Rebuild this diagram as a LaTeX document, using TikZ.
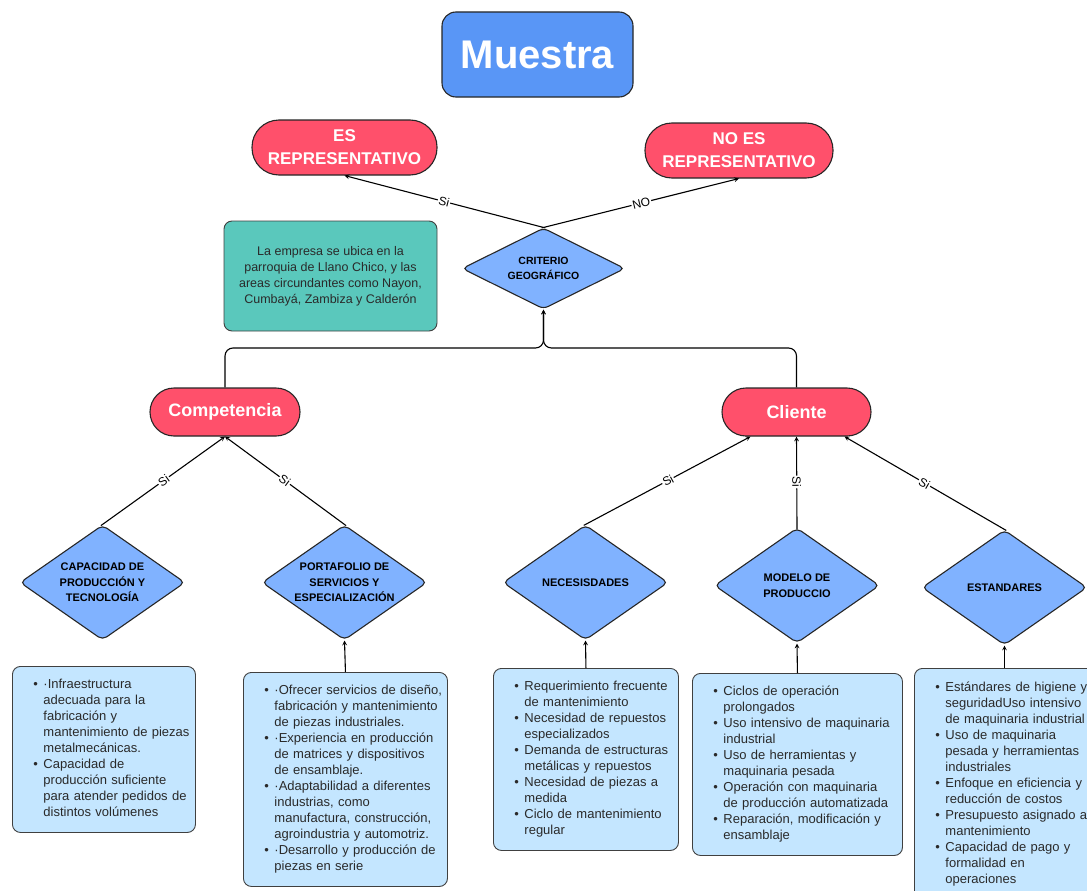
\documentclass[tikz,border=0pt]{standalone}
\usepackage{fontspec}
\setmainfont{Liberation Sans}
\usetikzlibrary{positioning,calc,arrows,shapes.geometric}

\definecolor{azultit}{HTML}{5996F6}
\definecolor{rojo}{HTML}{FF506B}
\definecolor{rombo}{HTML}{80B2FF}
\definecolor{verde}{HTML}{5AC8BC}
\definecolor{caja}{HTML}{C4E6FF}
\definecolor{tinta}{HTML}{2A2A2A}

\begin{document}
\begin{tikzpicture}[x=1pt,y=-1pt]
	\useasboundingbox (0,0) rectangle (1087,891);
	\begin{scope}
		\tikzstyle{every node}=[align=center, inner sep=0.2em]
		\tikzstyle{pill}=[draw=black!85, line width=1.1pt, fill=rojo, text=white, font=\bfseries\fontsize{17}{23}\selectfont]
		\tikzstyle{rmb}=[diamond, aspect=1.43, draw=black!85, line width=1.1pt, fill=rombo, rounded corners=5pt, inner sep=0pt, minimum width=165pt, minimum height=115pt, font=\bfseries\fontsize{11}{15.5}\selectfont]
		\tikzstyle{lista}=[draw=black!75, line width=0.9pt, fill=caja, rounded corners=8pt, anchor=north west, align=left, inner xsep=0pt, font=\fontsize{13}{16}\selectfont, text=tinta]
		\tikzstyle{etq}=[sloped, fill=white, inner sep=1pt, font=\fontsize{12}{12}\selectfont]
		\tikzstyle{flecha}=[->, >=stealth, line width=1.1pt]

		\node (mue) [draw=black!85, line width=1.1pt, fill=azultit, text=white, rounded corners=14pt, minimum width=191pt, minimum height=85pt, font=\bfseries\fontsize{40}{44}\selectfont] at (537.5, 54.5) {Muestra};

		\node (esr)  [pill, rounded corners=27pt, minimum width=185pt, minimum height=55pt] at (344.5, 147.5) {ES\\REPRESENTATIVO};
		\node (noes) [pill, rounded corners=27pt, minimum width=188pt, minimum height=55pt] at (739, 150.5) {NO ES\\REPRESENTATIVO};

		\node (crit) [rmb, aspect=2, minimum width=163pt, minimum height=81pt, font=\bfseries\fontsize{10.5}{15}\selectfont] at (543.5, 268.5) {CRITERIO\\GEOGRÁFICO};

		\node (geo) [draw=black!75, line width=0.9pt, fill=verde, rounded corners=8pt, minimum width=213pt, minimum height=110pt, text=tinta, font=\fontsize{12.5}{16}\selectfont] at (330.5, 276) {La empresa se ubica en la\\parroquia de Llano Chico, y las\\areas circundantes como Nayon,\\Cumbayá, Zambiza y Calderón};

		\node (comp) [pill, rounded corners=24pt, minimum width=150pt, minimum height=48pt, font=\bfseries\fontsize{18}{20}\selectfont] at (225, 412) {Competencia};
		\node (cli)  [pill, rounded corners=24pt, minimum width=149pt, minimum height=48pt, font=\bfseries\fontsize{18}{20}\selectfont] at (796.5, 412) {Cliente};

		\node (cap)  [rmb] at (102.5, 582.5) {CAPACIDAD DE\\PRODUCCIÓN Y\\TECNOLOGÍA};
		\node (port) [rmb] at (344.5, 582.5) {PORTAFOLIO DE\\SERVICIOS Y\\ESPECIALIZACIÓN};
		\node (nec)  [rmb] at (585.5, 582.5) {NECESISDADES};
		\node (mod)  [rmb] at (797, 585.5) {MODELO DE\\PRODUCCIO};
		\node (est)  [rmb] at (1004.5, 587.5) {ESTANDARES};

		\node (bcap) [lista, text width=183pt, minimum height=166pt] at (12, 666) {\noindent\begin{tabular}{@{\hspace{21pt}}p{10pt}@{}l@{}}
			\textbullet & ·Infraestructura\\
			& adecuada para la\\
			& fabricación y\\
			& mantenimiento de piezas\\
			& metalmecánicas.\\
			\textbullet & Capacidad de\\
			& producción suficiente\\
			& para atender pedidos de\\
			& distintos volúmenes
		\end{tabular}};
		\node (bport) [lista, text width=204pt, minimum height=214pt] at (243, 672) {\noindent\begin{tabular}{@{\hspace{21pt}}p{10pt}@{}l@{}}
			\textbullet & ·Ofrecer servicios de diseño,\\
			& fabricación y mantenimiento\\
			& de piezas industriales.\\
			\textbullet & ·Experiencia en producción\\
			& de matrices y dispositivos\\
			& de ensamblaje.\\
			\textbullet & ·Adaptabilidad a diferentes\\
			& industrias, como\\
			& manufactura, construcción,\\
			& agroindustria y automotriz.\\
			\textbullet & ·Desarrollo y producción de\\
			& piezas en serie
		\end{tabular}};
		\node (bnec) [lista, text width=185pt, minimum height=182pt] at (493, 668) {\noindent\begin{tabular}{@{\hspace{21pt}}p{10pt}@{}l@{}}
			\textbullet & Requerimiento frecuente\\
			& de mantenimiento\\
			\textbullet & Necesidad de repuestos\\
			& especializados\\
			\textbullet & Demanda de estructuras\\
			& metálicas y repuestos\\
			\textbullet & Necesidad de piezas a\\
			& medida\\
			\textbullet & Ciclo de mantenimiento\\
			& regular
		\end{tabular}};
		\node (bmod) [lista, text width=210pt, minimum height=182pt] at (692, 673) {\noindent\begin{tabular}{@{\hspace{21pt}}p{10pt}@{}l@{}}
			\textbullet & Ciclos de operación\\
			& prolongados\\
			\textbullet & Uso intensivo de maquinaria\\
			& industrial\\
			\textbullet & Uso de herramientas y\\
			& maquinaria pesada\\
			\textbullet & Operación con maquinaria\\
			& de producción automatizada\\
			\textbullet & Reparación, modificación y\\
			& ensamblaje
		\end{tabular}};
		\node (best) [lista, text width=185pt, minimum height=232pt] at (914, 668) {\noindent\begin{tabular}{@{\hspace{21pt}}p{10pt}@{}l@{}}
			\textbullet & Estándares de higiene y\\
			& seguridadUso intensivo\\
			& de maquinaria industrial\\
			\textbullet & Uso de maquinaria\\
			& pesada y herramientas\\
			& industriales\\
			\textbullet & Enfoque en eficiencia y\\
			& reducción de costos\\
			\textbullet & Presupuesto asignado a\\
			& mantenimiento\\
			\textbullet & Capacidad de pago y\\
			& formalidad en\\
			& operaciones
		\end{tabular}};

		% criterio -> resultados
		\draw [flecha, shorten <=-2pt] (crit.north) to node[etq] {Si} (esr.south);
		\draw [flecha, shorten <=-2pt] (crit.north) to node[etq] {NO} (noes.south);

		% ramas -> criterio
		\coordinate (union) at (543.5, 348);
		\draw [flecha, rounded corners=8pt] (comp.north) |- (union) -- (crit.south);
		\draw [flecha, rounded corners=8pt] (cli.north) |- (union) -- (crit.south);

		\draw [flecha, shorten <=-2pt] (cap.north) to node[etq] {Si} (comp.south);
		\draw [flecha, shorten <=-2pt] (port.north) to node[etq] {Si} (comp.south);

		\draw [flecha, shorten <=-2pt] (nec.north) to node[etq] {Si} ([xshift=-46pt]cli.south);
		\draw [flecha, shorten <=-2pt] (mod.north) to node[etq] {Si} (cli.south);
		\draw [flecha, shorten <=-2pt] (est.north) to node[etq] {Si} ([xshift=48pt]cli.south);

		% listas -> rombos
		\draw [flecha] (bport.north) to (port.south);
		\draw [flecha] (bnec.north) to (nec.south);
		\draw [flecha] (bmod.north) to (mod.south);
		\draw [flecha] (est.south |- best.north) to (est.south);
	\end{scope}
\end{tikzpicture}
\end{document}
